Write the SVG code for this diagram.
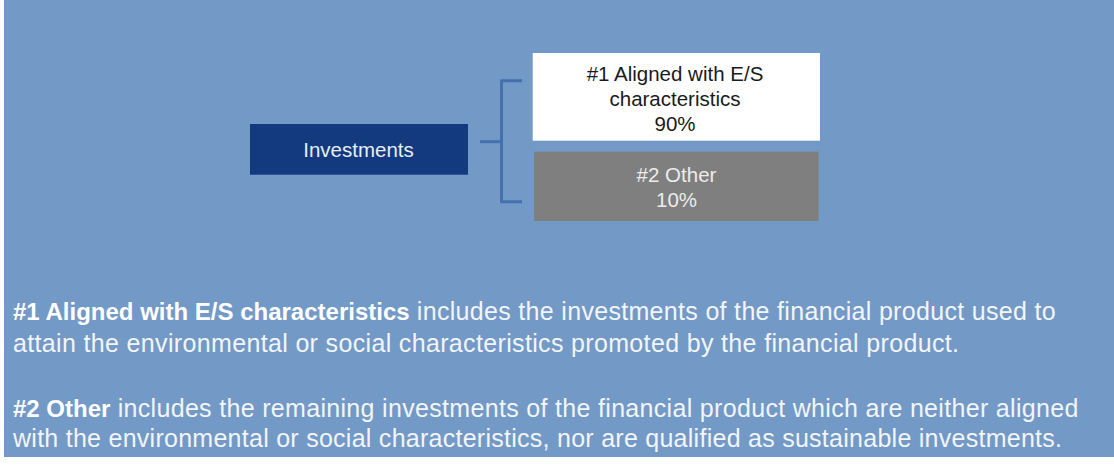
<svg xmlns="http://www.w3.org/2000/svg" width="1114" height="468" viewBox="0 0 1114 468">
<style>
text{font-family:"Liberation Sans",Arial,sans-serif}
.box-t{font-size:20.5px;text-anchor:middle}
.para{font-size:25px;fill:#F2F5FA}
.b{font-weight:bold;fill:#FFFFFF;font-size:24px}
.conn{fill:none;stroke:#4470AE;stroke-width:3;stroke-linejoin:round;stroke-linecap:butt}
</style>
<rect x="0" y="0" width="1114" height="468" fill="#FFFFFF"/>
<rect x="4" y="0" width="1110" height="457" fill="#7399C6"/>
<g id="connectors">
<path class="conn" d="M480 141.7H501.5"/>
<path class="conn" d="M522 80.7H501.5V201.7H522"/>
</g>
<g id="node-investments">
<rect x="250" y="124" width="218" height="50.7" fill="#133A7E"/>
<text class="box-t" x="358.5" y="156.7" fill="#E8EDF5">Investments</text>
</g>
<g id="node-aligned">
<rect x="532.7" y="53" width="287.3" height="87.7" fill="#FFFFFF"/>
<text class="box-t" x="675" y="80.5" fill="#1A1A1A">#1 Aligned with E/S</text>
<text class="box-t" x="675" y="105.5" fill="#1A1A1A">characteristics</text>
<text class="box-t" x="675" y="131" fill="#1A1A1A">90%</text>
</g>
<g id="node-other">
<rect x="534" y="151.7" width="284.6" height="69.3" fill="#7F7F7F"/>
<text class="box-t" x="676.5" y="181.7" fill="#ECECEC">#2 Other</text>
<text class="box-t" x="676.5" y="206.7" fill="#ECECEC">10%</text>
</g>
<g id="legend">
<text class="para" x="13" y="320"><tspan class="b">#1 Aligned with E/S characteristics</tspan><tspan textLength="646" lengthAdjust="spacing"> includes the investments of the financial product used to</tspan></text>
<text class="para" x="13" y="351.5" textLength="946" lengthAdjust="spacing">attain the environmental or social characteristics promoted by the financial product.</text>
<text class="para" x="13" y="417"><tspan class="b">#2 Other</tspan><tspan textLength="968" lengthAdjust="spacing"> includes the remaining investments of the financial product which are neither aligned</tspan></text>
<text class="para" x="13" y="447" textLength="1049" lengthAdjust="spacing">with the environmental or social characteristics, nor are qualified as sustainable investments.</text>
</g>
</svg>
